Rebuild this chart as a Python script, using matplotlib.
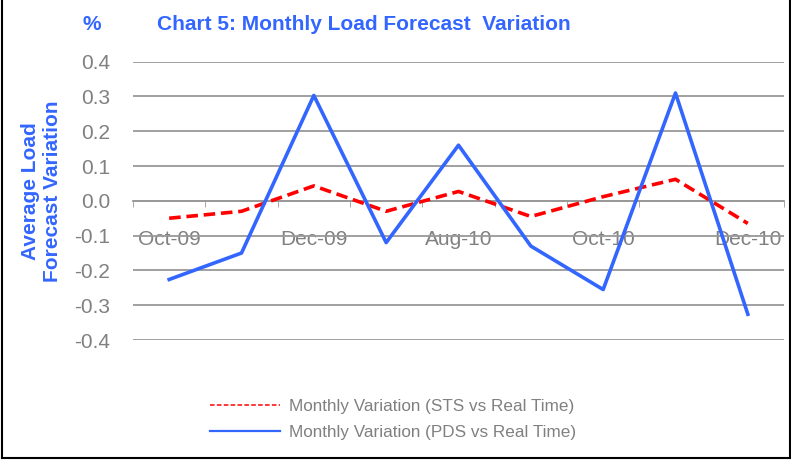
import matplotlib
matplotlib.use("Agg")
import matplotlib.pyplot as plt
from matplotlib.lines import Line2D

plt.rcParams['font.family'] = ['Liberation Sans', 'DejaVu Sans']

months = ['Oct-09', 'Nov-09', 'Dec-09', 'Jul-10', 'Aug-10', 'Sep-10', 'Oct-10', 'Nov-10', 'Dec-10']
shown_labels = ['Oct-09', '', 'Dec-09', '', 'Aug-10', '', 'Oct-10', '', 'Dec-10']
sts_var = [-0.05, -0.03, 0.043, -0.03, 0.027, -0.045, 0.012, 0.062, -0.065]
pds_var = [-0.226, -0.15, 0.303, -0.12, 0.16, -0.13, -0.255, 0.31, -0.326]
yticks = [-0.4, -0.3, -0.2, -0.1, 0.0, 0.1, 0.2, 0.3, 0.4]

blue = '#3366FF'
red = '#FF0000'
grey = '#808080'

fig = plt.figure(figsize=(7.91, 4.66), dpi=100)
ax = fig.add_axes([133/791, 1 - 340/466, 651/791, (340 - 61.7)/466])

x = list(range(len(months)))
ax.plot(x, sts_var, color=red, lw=2.6, dashes=(3.2, 1.6), zorder=3,
        label='Monthly Variation (STS vs Real Time)')
ax.plot(x, pds_var, color=blue, lw=2.6, zorder=4,
        label='Monthly Variation (PDS vs Real Time)')

ax.set_xlim(-0.5, len(months) - 0.5)
ax.set_ylim(-0.4, 0.4)
ax.set_yticks(yticks)
ax.set_yticklabels(['%.1f' % v for v in yticks])
ax.yaxis.grid(True, color='#999999', lw=1.3)
ax.set_axisbelow(True)

for s in ['top', 'right', 'left']:
    ax.spines[s].set_visible(False)
ax.spines['bottom'].set_position(('data', 0))
ax.spines['bottom'].set_color('#999999')
ax.spines['bottom'].set_linewidth(1.3)

ax.set_xticks(x)
ax.set_xticklabels(shown_labels)
ax.set_xticks([i - 0.5 for i in range(len(months) + 1)], minor=True)
ax.tick_params(axis='x', which='major', length=0, pad=21, labelsize=15, labelcolor=grey)
ax.tick_params(axis='x', which='minor', length=4, direction='out', color='#999999')
ax.tick_params(axis='y', length=0, pad=16.5, labelsize=15, labelcolor=grey)

fig.text(31/791, 1 - 191/466, 'Average Load', rotation=90, ha='center', va='center',
         color=blue, fontsize=15, fontweight='bold')
fig.text(53/791, 1 - 191/466, 'Forecast Variation', rotation=90, ha='center', va='center',
         color=blue, fontsize=15, fontweight='bold')

fig.text(92/791, 1 - 25/466, '%', ha='center', va='center', color=blue,
         fontsize=15, fontweight='bold')
fig.text(157/791, 1 - 25/466, 'Chart 5: Monthly Load Forecast  Variation', ha='left',
         va='center', color=blue, fontsize=15, fontweight='bold')

handles = [Line2D([], [], color=red, lw=1.1, ls=(0, (3, 1.5))),
           Line2D([], [], color=blue, lw=1.6)]
leg = fig.legend(handles, ['Monthly Variation (STS vs Real Time)',
                           'Monthly Variation (PDS vs Real Time)'],
                 loc='center left', bbox_to_anchor=(210/791, 1 - 419.5/466),
                 frameon=False, fontsize=12.3, handlelength=4.1, handletextpad=0.55,
                 labelspacing=0.68, borderaxespad=0, borderpad=0)
for t in leg.get_texts():
    t.set_color(grey)

# outer frame (left, right, bottom)
fig.add_artist(Line2D([1.5/791, 1.5/791], [1 - 458/466, 1], color='black', lw=1.5))
fig.add_artist(Line2D([789.5/791, 789.5/791], [1 - 458/466, 1], color='black', lw=1.5))
fig.add_artist(Line2D([1.5/791, 789.5/791], [1 - 458/466, 1 - 458/466], color='black', lw=1.5))

fig.savefig('out.png', dpi=100)
